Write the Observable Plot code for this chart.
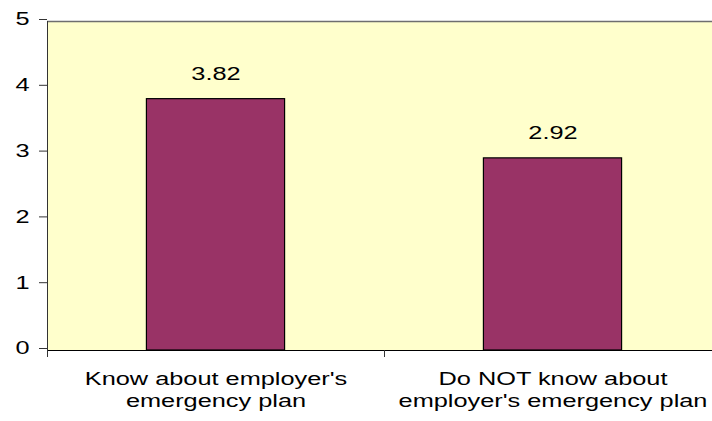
<!DOCTYPE html>
<html>
<head>
<meta charset="utf-8">
<script src="https://cdn.jsdelivr.net/npm/d3@7"></script>
<script src="https://cdn.jsdelivr.net/npm/@observablehq/plot@0.6"></script>
<style>
  html, body { margin: 0; padding: 0; background: #fff; overflow: hidden; }
  #chart svg { display: block; }
</style>
</head>
<body>
<div id="chart"></div>
<script>
const categories = ["Know about employer's\nemergency plan", "Do NOT know about\nemployer's emergency plan"];
const values = [3.82, 2.92];
const valueLabels = ["3.82", "2.92"];
const yTicks = [0, 1, 2, 3, 4, 5];
const yDomain = [0, 5];
const xDomain = [-0.5, 1.5];
const boundaries = [-0.5, 0.5, 1.5];

const data = categories.map((c, i) => ({i, category: c, value: values[i], label: valueLabels[i]}));
const half = 0.205;
const FONT = "'Liberation Sans', Arial, sans-serif";
const FS = 18.5;

const plot = Plot.plot({
  width: 712,
  height: 421,
  marginLeft: 47,
  marginRight: 0,
  marginTop: 21,
  marginBottom: 71,
  style: {fontFamily: FONT, fontSize: FS + "px", color: "#000", background: "#fff"},
  x: {domain: xDomain, range: [47, 721], axis: null},
  y: {domain: yDomain, axis: null},
  marks: [
    Plot.rect([{}], {x1: xDomain[0], x2: xDomain[1], y1: yDomain[0], y2: yDomain[1], fill: "#FFFFCC"}),
    Plot.ruleY([yDomain[1]], {stroke: "#6e6e6e", strokeWidth: 1.3}),
    Plot.rectY(data, {x1: d => d.i - half, x2: d => d.i + half, y1: 0, y2: "value", fill: "#993366", stroke: "#000", strokeWidth: 1.2}),
    Plot.text(data, {x: "i", y: "value", text: "label", dy: -25, fontSize: FS, fill: "#000"}),
    Plot.ruleX([xDomain[0]], {y1: yDomain[0], y2: yDomain[1], stroke: "#333"}),
    Plot.ruleY([yDomain[0]], {stroke: "#000", strokeWidth: 1.2}),
    Plot.axisY(yTicks, {tickSize: 8, tickPadding: 10, dy: -2, tickFormat: d3.format("d"), fontSize: FS, label: null, stroke: "#333", fill: "#000"}),
    Plot.axisX(boundaries, {tickSize: 7, tickFormat: () => "", label: null, stroke: "#333"}),
    Plot.axisX([0, 1], {tickSize: 0, tickPadding: 19, tickFormat: i => categories[i], lineHeight: 1.2, fontSize: FS, label: null, fill: "#000"})
  ]
});

document.getElementById("chart").appendChild(plot);
// The reference text is horizontally stretched; scale glyphs about their anchors.
plot.querySelectorAll("text").forEach(t => {
  const tr = t.getAttribute("transform") || "";
  t.setAttribute("transform", tr + " scale(1.37,1)");
});
</script>
</body>
</html>
